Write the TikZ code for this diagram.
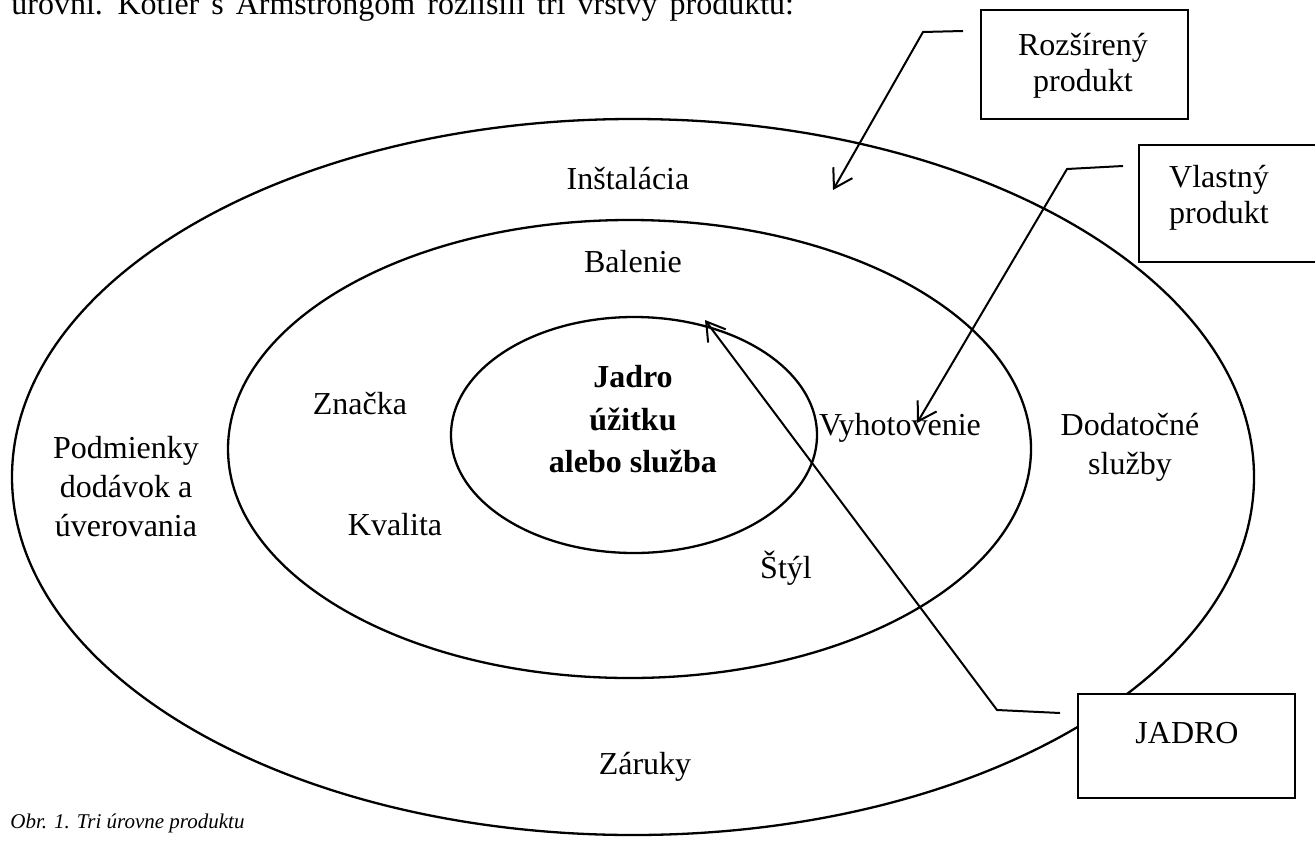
\documentclass[tikz,border=0pt]{standalone}
\usepackage{fontspec}
\setmainfont{Liberation Serif}
\usetikzlibrary{arrows.meta}
\begin{document}
\begin{tikzpicture}[x=0.5pt,y=-0.5pt,
  ring/.style={line width=1.15pt},
  conn/.style={line width=1pt, -{Straight Barb[length=9pt,width=11pt,line width=1pt]}},
  tbox/.style={draw, fill=white, line width=1.1pt, inner sep=0pt},
  lbl/.style={inner sep=0pt, font=\fontsize{16pt}{19.5pt}\selectfont, align=center},
  blbl/.style={inner sep=0pt, font=\fontsize{16pt}{21.25pt}\selectfont\bfseries, align=center},
  boxlbl/.style={inner sep=0pt, font=\fontsize{16pt}{17.75pt}\selectfont, align=center},
]
\useasboundingbox (0,0) rectangle (1315,840);
\clip (0,0) rectangle (1315,840);
\fill[white] (0,0) rectangle (1315,840);

% top text line (cut off by the page edge)
\node[inner sep=0pt, anchor=base west, font=\fontsize{16pt}{19pt}\selectfont] (intro) at (11,15) {\spaceskip=6pt plus 1pt\relax úrovní. Kotler s Armstrongom rozlišili tri vrstvy produktu:};

% ellipses
\coordinate (co) at (633,477);
\coordinate (cm) at (629.5,449);
\coordinate (ci) at (634,435);
\draw[ring] (co) ellipse [x radius=310.5pt, y radius=179pt];
\draw[ring] (cm) ellipse [x radius=200.75pt, y radius=114.5pt];
\draw[ring] (ci) ellipse [x radius=91.5pt, y radius=59pt];

% labels
\node[lbl, anchor=base] (inst) at (628,189) {Inštalácia};
\node[lbl, anchor=base] (bal) at (633,272) {Balenie};
\node[lbl, anchor=base] (zn) at (360,414) {Značka};
\node[lbl, anchor=base] (kv) at (395,535) {Kvalita};
\node[lbl, anchor=north] (pod) at (126,436) {Podmienky\\dodávok a\\úverovania};
\node[blbl, anchor=north] (jad) at (633,365) {Jadro\\úžitku\\alebo služba};
\node[lbl, anchor=base] (vyh) at (900,435) {Vyhotovenie};
\node[lbl, anchor=north] (dod) at (1130,413) {Dodatočné\\služby};
\node[lbl, anchor=base] (sty) at (786,578) {Štýl};
\node[lbl, anchor=base] (zar) at (645,774) {Záruky};
\node[inner sep=0pt, anchor=base west, font=\fontsize{10.5pt}{12pt}\selectfont\itshape] (cap) at (10,828) {Obr. 1. Tri úrovne produktu};

% connectors
\coordinate (r0) at (963,31);
\coordinate (r1) at (923,32);
\coordinate (rt) at (833,190);
\draw[conn] (r0) -- (r1) -- (rt);

\coordinate (v0) at (1123,166);
\coordinate (v1) at (1067,169);
\coordinate (vt) at (917,423);
\draw[conn] (v0) -- (v1) -- (vt);

\coordinate (j0) at (1060,713);
\coordinate (j1) at (997,710);
\coordinate (jt) at (705,320);
\draw[conn] (j0) -- (j1) -- (jt);

% boxes
\node[tbox, minimum width=103.5pt, minimum height=54.5pt] (rbox) at (1084.5,64.5) {};
\node[boxlbl, anchor=north] (rtext) at (1083,33) {Rozšírený\\produkt};
\node[tbox, minimum width=90.5pt, minimum height=58.5pt] (vbox) at (1229.5,203.5) {};
\node[boxlbl, anchor=north] (vtext) at (1219,165) {Vlastný\\produkt};
\node[tbox, minimum width=108.5pt, minimum height=52pt] (jbox) at (1186.5,746) {};
\node[lbl, anchor=base] (jtext) at (1187,743) {JADRO};
\end{tikzpicture}
\end{document}
